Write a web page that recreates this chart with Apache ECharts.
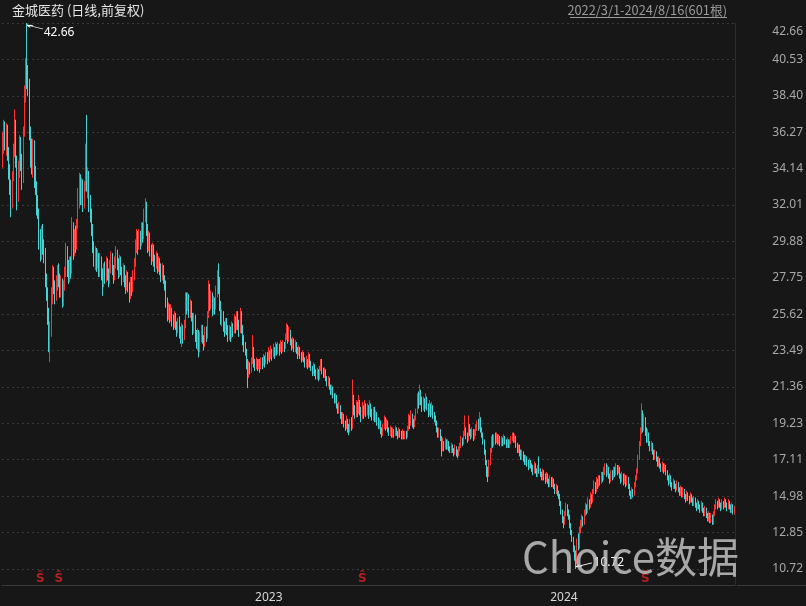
<!DOCTYPE html>
<html>
<head>
<meta charset="utf-8">
<title>金城医药 日线</title>
<script src="https://cdn.jsdelivr.net/npm/echarts@6.0.0/dist/echarts.min.js"></script>
<style>
  html, body { margin: 0; padding: 0; background: #171717; }
  #kline { width: 806px; height: 606px; }
</style>
</head>
<body>
<div id="kline"></div>
<script>
  const chartTitle = '金城医药 (日线,前复权)';
  const rangeText = '2022/3/1-2024/8/16(601根)';
  const firstDay = '2022-03-01';
  const lastDay = '2024-08-16';
  // 休市日（工作日）
  const holidays = [
    '2022-04-04', '2022-04-05', '2022-05-02', '2022-05-03', '2022-05-04', '2022-06-03', '2022-09-12',
    '2022-10-03', '2022-10-04', '2022-10-05', '2022-10-06', '2022-10-07',
    '2023-01-02', '2023-01-23', '2023-01-24', '2023-01-25', '2023-01-26', '2023-01-27', '2023-04-05',
    '2023-05-01', '2023-05-02', '2023-05-03', '2023-06-22', '2023-06-23', '2023-09-29',
    '2023-10-02', '2023-10-03', '2023-10-04', '2023-10-05', '2023-10-06',
    '2024-01-01', '2024-02-09', '2024-02-12', '2024-02-13', '2024-02-14', '2024-02-15', '2024-02-16',
    '2024-04-04', '2024-04-05', '2024-05-01', '2024-05-02', '2024-05-03', '2024-06-10'
  ];
  const yTickLabels = [10.72, 12.85, 14.98, 17.11, 19.23, 21.36, 23.49, 25.62, 27.75, 29.88, 32.01, 34.14, 36.27, 38.40, 40.53, 42.66];
  const yMin = 9.78;
  const yMax = 42.66;
  // 公告标记 S 所在的K线序号
  const eventIdx = [31, 46, 295, 527];
  const eventLevel = 10.15;
  // [开盘, 收盘, 最低, 最高]
  const candles = [
    [34.8,35.5,34.2,36.3],[35.5,36.6,35.0,37.0],[36.6,35.6,35.2,36.9],[35.6,36.5,34.9,36.8],[36.5,35.0,34.6,36.7],[35.0,34.0,33.5,35.4],[34.0,33.2,32.6,34.4],[33.2,32.0,31.3,33.5],[32.0,33.6,31.8,34.0],[33.6,35.0,33.4,35.6],
    [35.0,36.8,34.8,37.6],[36.8,34.6,34.2,37.0],[34.6,32.5,31.7,34.9],[32.5,34.0,32.2,34.6],[34.0,35.5,33.6,36.1],[35.5,34.6,34.0,36.0],[34.6,33.5,32.9,35.0],[33.5,36.2,33.3,36.6],[36.2,38.5,36.0,39.0],[38.5,40.0,38.0,40.6],
    [40.8,39.2,38.8,42.66],[39.2,39.0,38.4,40.2],[39.0,36.2,35.8,39.4],[36.2,35.0,34.2,36.6],[35.0,34.2,33.8,35.9],[34.2,35.6,33.6,35.9],[35.6,34.0,33.0,35.8],[34.0,33.0,32.6,34.3],[33.0,32.0,31.4,33.4],[32.0,31.6,31.2,32.6],
    [31.6,30.0,29.4,31.8],[30.0,29.0,28.7,30.6],[29.0,30.4,28.8,30.8],[30.4,29.6,29.1,30.9],[29.6,29.0,28.6,30.0],[29.0,27.6,27.2,29.5],[27.6,26.8,26.4,28.0],[26.8,25.4,25.0,27.2],[25.4,24.0,23.4,26.0],[23.8,24.6,22.83,25.2],
    [24.6,26.8,24.3,27.2],[26.8,28.0,26.2,28.5],[28.0,27.2,26.8,28.4],[27.2,26.6,26.2,27.6],[26.6,27.4,26.4,27.9],[27.4,28.2,27.0,28.5],[28.2,27.6,27.2,28.6],[27.6,27.0,26.6,28.0],[27.0,27.5,26.6,27.9],[27.5,26.4,26.0,27.7],
    [26.4,27.2,26.1,27.6],[27.2,28.0,27.0,28.4],[28.0,29.4,27.8,29.8],[29.4,28.4,27.8,29.6],[28.4,27.8,27.4,28.8],[27.8,28.6,27.5,29.0],[28.6,28.2,27.7,29.0],[28.2,30.6,28.0,31.3],[30.6,29.4,28.8,31.0],[29.4,30.2,29.0,30.6],
    [30.2,29.6,29.2,30.8],[29.6,30.8,29.4,31.2],[30.8,32.6,30.6,33.0],[32.6,33.6,31.8,33.9],[33.6,32.4,32.0,33.8],[32.4,33.2,32.0,33.6],[33.2,32.0,31.6,33.5],[32.0,33.0,31.8,33.4],[33.0,35.2,32.8,35.6],[35.0,33.2,32.8,37.28],
    [32.9,33.8,32.4,34.2],[33.8,32.2,31.6,34.0],[32.2,31.4,31.0,32.6],[31.4,30.6,30.2,31.8],[30.6,29.6,29.2,30.9],[29.6,28.8,28.4,29.9],[28.8,29.2,28.2,29.6],[29.2,28.6,28.1,29.5],[28.6,29.0,28.3,29.4],[29.0,28.2,27.8,29.2],
    [28.2,28.8,27.8,29.2],[28.8,28.0,27.6,29.0],[28.0,27.4,26.7,28.3],[27.4,28.2,27.2,28.6],[28.2,27.8,27.4,28.7],[27.8,28.6,27.5,29.0],[28.6,28.0,27.6,28.9],[28.0,27.6,27.2,28.3],[27.6,28.4,27.4,28.8],[28.4,28.9,28.0,29.3],
    [28.9,28.2,27.9,29.2],[28.2,27.8,27.4,28.5],[27.8,28.6,27.6,29.0],[28.6,29.2,28.3,29.6],[29.2,28.6,28.2,29.4],[28.6,28.0,27.7,28.9],[28.0,28.7,27.8,29.1],[28.7,28.2,27.9,29.0],[28.2,27.7,27.3,28.4],[27.7,28.3,27.5,28.6],
    [28.3,27.6,27.2,28.5],[27.6,27.2,26.8,27.9],[27.2,27.9,27.0,28.2],[27.9,27.3,26.9,28.1],[27.3,26.7,26.3,27.5],[26.7,27.5,26.5,27.8],[27.5,27.0,26.7,27.8],[27.0,27.8,26.9,28.2],[27.8,28.6,27.6,28.9],[28.6,29.6,28.4,30.0],
    [29.6,30.2,29.2,30.6],[30.2,29.6,29.1,30.5],[29.6,30.3,29.4,30.6],[30.3,29.8,29.4,30.5],[29.8,30.6,29.6,31.0],[30.6,30.2,29.8,31.0],[30.2,31.4,30.0,31.8],[31.4,32.0,31.0,32.4],[32.0,30.6,30.2,32.2],[30.6,29.6,29.2,30.9],
    [29.6,30.2,29.3,30.5],[30.2,29.4,29.0,30.4],[29.4,28.9,28.5,29.7],[28.9,29.5,28.7,29.8],[29.5,28.8,28.4,29.7],[28.8,28.5,28.1,29.1],[28.5,29.0,28.3,29.3],[29.0,28.4,28.0,29.2],[28.4,28.7,28.1,29.0],[28.7,28.2,27.9,28.9],
    [28.2,27.9,27.5,28.6],[27.9,28.3,27.6,28.6],[28.3,27.7,27.4,28.5],[27.7,27.4,27.0,27.9],[27.4,26.4,26.0,27.6],[26.4,25.6,25.2,26.6],[25.6,26.0,25.3,26.3],[26.0,25.5,25.1,26.2],[25.5,25.9,25.2,26.2],[25.9,25.3,24.9,26.0],
    [25.3,25.0,24.7,25.6],[25.0,25.5,24.8,25.8],[25.5,25.0,24.7,25.7],[25.0,24.7,24.3,25.2],[24.7,25.2,24.5,25.4],[25.2,24.6,24.2,25.5],[24.6,24.2,23.9,24.9],[24.2,24.8,23.7,25.1],[24.8,24.4,23.9,25.0],[24.4,25.0,24.1,25.3],
    [25.0,26.6,24.8,26.9],[26.6,26.0,25.6,26.9],[26.0,26.6,25.8,26.9],[26.6,25.8,25.4,26.8],[25.8,26.2,25.4,26.5],[26.2,25.5,25.2,26.4],[25.5,24.8,24.4,25.7],[24.8,25.4,24.5,25.7],[25.4,24.4,24.0,25.6],[24.4,24.0,23.6,24.7],
    [24.0,24.5,23.5,24.8],[24.5,23.6,23.1,24.7],[23.6,24.3,23.4,24.6],[24.3,24.8,24.0,25.0],[24.8,24.2,23.9,25.0],[24.2,23.9,23.5,24.4],[23.9,24.6,23.7,24.9],[24.6,24.3,24.0,24.9],[24.3,25.5,24.2,25.8],[25.5,27.2,25.4,27.6],
    [27.2,26.2,25.8,27.4],[26.2,26.7,25.9,27.0],[26.7,25.9,25.5,26.9],[25.9,26.4,25.6,26.7],[26.4,26.0,25.6,26.6],[26.0,26.8,25.9,27.3],[26.8,28.0,26.6,28.2],[28.0,27.6,26.8,28.6],[27.6,26.2,25.8,27.8],[26.2,25.4,25.0,26.4],
    [25.4,25.6,24.9,25.9],[25.6,25.0,24.6,25.8],[25.0,24.6,24.3,25.2],[24.6,25.2,24.5,25.4],[25.2,24.8,24.4,25.4],[24.8,24.3,24.0,25.0],[24.3,24.7,24.1,25.0],[24.7,24.4,24.0,24.9],[24.4,25.0,24.2,25.2],[25.0,24.6,24.3,25.1],
    [24.6,25.3,24.5,25.6],[25.3,24.8,24.5,25.5],[24.8,25.6,24.7,25.8],[25.6,25.1,24.7,25.8],[25.1,24.6,24.3,25.3],[24.6,25.6,24.5,26.0],[25.6,24.8,24.5,25.8],[24.8,24.2,23.8,25.0],[24.2,23.8,23.4,24.4],[23.8,23.5,23.2,24.0],
    [23.5,22.8,22.4,23.6],[22.8,22.2,21.3,23.0],[22.2,22.6,21.9,22.9],[22.6,22.4,22.1,22.8],[22.4,22.9,22.2,23.1],[22.9,23.5,22.7,24.4],[23.5,22.8,22.5,23.7],[22.8,22.6,22.3,23.0],[22.6,22.9,22.4,23.1],[22.9,22.6,22.3,23.0],
    [22.6,22.8,22.4,23.0],[22.8,22.5,22.2,23.0],[22.5,22.9,22.4,23.1],[22.9,22.7,22.4,23.1],[22.7,23.1,22.6,23.3],[23.1,22.8,22.5,23.2],[22.8,23.2,22.7,23.4],[23.2,23.0,22.7,23.4],[23.0,23.4,22.9,23.7],[23.4,23.1,22.8,23.5],
    [23.1,23.5,23.0,23.8],[23.5,23.2,22.9,23.6],[23.2,23.6,23.1,23.9],[23.6,23.3,23.0,23.7],[23.3,23.8,23.2,24.0],[23.8,23.5,23.2,23.9],[23.5,23.7,23.3,24.0],[23.7,23.5,23.2,23.9],[23.5,23.9,23.4,24.1],[23.9,23.6,23.3,24.0],
    [23.6,23.8,23.4,24.1],[23.8,23.7,23.4,24.0],[23.7,24.2,23.6,24.5],[24.2,24.7,24.1,25.1],[24.7,24.2,23.9,25.0],[24.2,24.5,24.0,24.9],[24.5,24.0,23.8,24.7],[24.0,23.8,23.5,24.2],[23.8,24.1,23.6,24.3],[24.1,23.6,23.4,24.2],
    [23.6,23.9,23.4,24.1],[23.9,23.5,23.3,24.0],[23.5,23.3,23.0,23.7],[23.3,23.6,23.2,23.8],[23.6,23.2,23.0,23.7],[23.2,23.0,22.8,23.4],[23.0,23.3,22.9,23.5],[23.3,23.0,22.8,23.4],[23.0,22.7,22.5,23.1],[22.7,22.9,22.5,23.2],
    [22.9,22.6,22.4,23.0],[22.6,23.2,22.5,23.4],[23.2,22.8,22.5,23.3],[22.8,22.5,22.3,22.9],[22.5,22.3,22.0,22.6],[22.3,22.6,22.1,22.8],[22.6,22.2,22.0,22.7],[22.2,22.0,21.8,22.4],[22.0,22.3,21.8,22.5],[22.3,21.9,21.7,22.4],
    [21.9,22.4,21.8,22.6],[22.4,22.9,22.3,23.0],[22.9,22.4,22.1,23.0],[22.4,22.1,21.9,22.5],[22.1,22.3,21.9,22.5],[22.3,21.9,21.7,22.4],[21.9,21.6,21.4,22.0],[21.6,21.8,21.4,22.0],[21.8,21.4,21.2,21.9],[21.4,21.1,20.9,21.5],
    [21.1,21.3,20.9,21.5],[21.3,20.9,20.7,21.4],[20.9,20.6,20.4,21.0],[20.6,20.8,20.4,21.0],[20.8,20.3,20.1,20.9],[20.3,20.0,19.8,20.4],[20.0,20.2,19.8,20.5],[20.2,19.7,19.5,20.3],[19.7,19.4,19.2,19.9],[19.4,19.7,19.2,19.9],
    [19.7,19.3,19.0,19.8],[19.3,19.0,18.8,19.4],[19.0,19.4,18.9,19.7],[19.4,19.0,18.7,19.5],[19.0,18.8,18.55,19.2],[18.8,19.3,18.7,19.5],[19.3,19.0,18.8,19.6],[19.0,20.6,18.9,21.8],[20.6,20.0,19.7,20.9],[20.0,19.8,19.5,20.3],
    [19.8,20.3,19.6,20.6],[20.3,19.9,19.6,20.5],[19.9,20.4,19.8,20.9],[20.4,20.0,19.7,20.6],[20.0,19.6,19.3,20.2],[19.6,20.2,19.5,20.5],[20.2,19.8,19.5,20.3],[19.8,20.3,19.7,20.6],[20.3,19.9,19.6,20.4],[19.9,20.2,19.7,20.4],
    [20.2,19.8,19.5,20.3],[19.8,20.3,19.7,20.6],[20.3,19.9,19.6,20.4],[19.9,19.6,19.4,20.1],[19.6,20.0,19.4,20.2],[20.0,19.5,19.3,20.2],[19.5,19.8,19.3,20.0],[19.8,19.4,19.1,19.9],[19.4,19.1,18.9,19.6],[19.1,19.3,18.9,19.5],
    [19.3,18.8,18.6,19.4],[18.8,18.6,18.4,19.0],[18.6,19.0,18.5,19.2],[19.0,19.5,18.9,19.7],[19.5,19.1,18.8,19.6],[19.1,19.3,18.9,19.5],[19.3,18.9,18.7,19.4],[18.9,18.7,18.5,19.0],[18.7,18.9,18.5,19.1],[18.9,18.6,18.4,19.0],
    [18.6,18.8,18.4,19.0],[18.8,18.6,18.4,18.9],[18.6,18.9,18.5,19.1],[18.9,18.7,18.5,19.0],[18.7,18.5,18.3,18.8],[18.5,18.8,18.4,19.0],[18.8,18.6,18.4,18.9],[18.6,18.5,18.3,18.8],[18.5,18.7,18.3,18.9],[18.7,18.5,18.3,18.8],
    [18.5,18.6,18.3,18.8],[18.6,18.5,18.3,18.8],[18.5,18.9,18.4,19.1],[18.9,19.5,18.8,19.8],[19.5,19.2,18.9,19.7],[19.2,19.7,19.1,20.0],[19.7,19.3,19.0,19.8],[19.3,19.1,18.9,19.5],[19.1,19.5,19.0,19.7],[19.5,19.9,19.4,20.1],
    [19.9,20.7,19.8,21.0],[20.7,20.4,20.1,21.1],[20.4,21.0,20.3,21.5],[21.0,20.6,20.3,21.2],[20.6,20.1,19.9,20.8],[20.1,20.5,20.0,20.8],[20.5,20.2,19.9,20.7],[20.2,20.7,20.1,21.0],[20.7,20.3,20.0,20.8],[20.3,19.8,19.6,20.4],
    [19.8,20.3,19.7,20.6],[20.3,19.9,19.6,20.4],[19.9,20.2,19.7,20.5],[20.2,19.7,19.5,20.3],[19.7,19.5,19.3,19.9],[19.5,19.3,19.1,19.7],[19.3,18.9,18.7,19.4],[18.9,18.6,18.4,19.0],[18.6,18.8,18.4,19.0],[18.8,18.4,18.2,18.9],
    [18.4,17.7,17.3,18.5],[17.7,18.1,17.6,18.4],[18.1,17.8,17.6,18.2],[17.8,18.2,17.7,18.4],[18.2,17.9,17.7,18.3],[17.9,18.1,17.7,18.3],[18.1,17.8,17.6,18.2],[17.8,17.6,17.5,17.9],[17.6,17.9,17.5,18.1],[17.9,17.7,17.5,18.0],
    [17.7,17.5,17.3,17.8],[17.5,17.8,17.4,18.0],[17.8,17.5,17.3,17.9],[17.5,17.4,17.2,17.7],[17.4,17.7,17.3,17.9],[17.7,17.9,17.6,18.1],[17.9,18.3,17.8,18.5],[18.3,18.1,17.9,18.4],[18.1,18.6,18.0,18.8],[18.6,18.9,18.5,19.7],
    [18.9,18.5,18.3,19.0],[18.5,18.3,18.1,18.7],[18.3,19.1,18.2,19.7],[19.1,18.7,18.5,19.2],[18.7,18.5,18.3,18.9],[18.5,18.8,18.4,19.0],[18.8,18.4,18.2,18.9],[18.4,18.6,18.3,18.9],[18.6,18.9,18.5,19.2],[18.9,19.2,18.8,19.4],
    [19.2,19.0,18.8,19.5],[19.0,19.5,18.9,19.9],[19.5,18.9,18.7,19.6],[18.9,18.6,18.4,19.0],[18.6,18.2,18.0,18.7],[18.2,17.6,17.4,18.3],[17.6,17.0,16.8,17.7],[17.0,16.4,16.1,17.1],[16.4,16.3,15.8,16.7],[16.3,16.9,16.1,17.1],
    [16.9,17.6,16.8,17.8],[17.6,18.3,17.5,18.5],[18.3,18.0,17.8,18.6],[18.0,18.4,17.9,18.6],[18.4,18.2,18.0,18.7],[18.2,18.5,18.1,18.7],[18.5,18.2,18.0,18.6],[18.2,18.4,18.0,18.6],[18.4,18.1,17.9,18.5],[18.1,18.3,17.9,18.5],
    [18.3,18.1,17.9,18.4],[18.1,18.4,18.0,18.6],[18.4,18.2,18.0,18.5],[18.2,18.0,17.8,18.3],[18.0,18.2,17.8,18.4],[18.2,17.9,17.8,18.3],[17.9,18.1,17.8,18.3],[18.1,18.3,18.0,18.5],[18.3,18.5,18.2,18.7],[18.5,18.3,18.1,18.7],
    [18.3,18.4,18.1,18.6],[18.4,18.0,17.8,18.5],[18.0,17.7,17.5,18.1],[17.7,17.9,17.5,18.0],[17.9,17.5,17.3,18.0],[17.5,17.3,17.1,17.7],[17.3,17.5,17.1,17.7],[17.5,17.2,17.0,17.6],[17.2,17.0,16.8,17.4],[17.0,17.2,16.8,17.4],
    [17.2,16.9,16.7,17.3],[16.9,16.7,16.5,17.1],[16.7,17.0,16.6,17.2],[17.0,16.8,16.6,17.1],[16.8,16.6,16.4,16.9],[16.6,16.4,16.2,16.8],[16.4,16.8,16.3,17.0],[16.8,16.5,16.3,16.9],[16.5,16.2,16.1,16.6],[16.2,16.7,16.1,16.8],
    [16.7,16.5,16.3,17.3],[16.5,16.3,16.1,16.6],[16.3,16.0,15.9,16.4],[16.0,16.4,15.9,16.6],[16.4,16.1,15.9,16.5],[16.1,15.9,15.7,16.3],[15.9,16.2,15.8,16.4],[16.2,15.9,15.7,16.3],[15.9,15.7,15.5,16.0],[15.7,16.0,15.5,16.2],
    [16.0,15.7,15.5,16.1],[15.7,15.9,15.5,16.1],[15.9,15.6,15.4,16.0],[15.6,15.3,15.1,15.7],[15.3,15.5,15.1,15.7],[15.5,15.2,15.0,15.6],[15.2,15.0,14.8,15.3],[15.0,14.6,14.4,15.1],[14.6,14.1,13.9,14.7],[14.1,13.6,13.4,14.2],
    [13.6,13.4,13.1,13.8],[13.4,13.9,13.3,14.1],[13.9,14.4,13.8,14.6],[14.4,14.0,13.8,14.5],[14.0,13.8,13.6,14.2],[13.8,13.3,13.1,13.9],[13.3,12.9,12.7,13.4],[12.9,12.5,12.3,13.0],[12.5,12.0,11.7,12.6],[12.0,11.4,11.2,12.1],
    [11.4,11.2,10.72,11.8],[11.2,12.3,11.0,12.5],[12.3,12.0,11.8,12.8],[12.0,13.0,11.9,13.2],[13.0,13.3,12.8,13.6],[13.3,13.6,13.1,13.9],[13.6,13.4,13.2,13.8],[13.4,13.9,13.3,14.2],[13.9,14.3,13.8,14.6],[14.3,14.1,13.9,14.5],
    [14.1,14.6,14.0,14.9],[14.6,14.4,14.2,14.8],[14.4,14.9,14.3,15.2],[14.9,14.7,14.5,15.1],[14.7,15.2,14.6,15.4],[15.2,15.6,15.1,15.9],[15.6,15.3,15.1,15.8],[15.3,15.8,15.2,16.1],[15.8,15.6,15.4,16.0],[15.6,16.0,15.5,16.2],
    [16.0,15.8,15.6,16.2],[15.8,16.2,15.7,16.4],[16.2,16.0,15.8,16.4],[16.0,16.4,15.9,16.7],[16.4,16.6,16.2,16.9],[16.6,16.3,16.1,16.9],[16.3,16.6,16.2,16.8],[16.6,16.2,16.0,16.7],[16.2,15.9,15.7,16.3],[15.9,16.3,15.8,16.5],
    [16.3,16.1,15.9,16.5],[16.1,16.5,16.0,16.7],[16.5,16.3,16.1,16.7],[16.3,16.7,16.2,16.9],[16.7,16.4,16.2,16.8],[16.4,16.6,16.3,16.8],[16.6,16.2,16.0,16.7],[16.2,15.9,15.7,16.3],[15.9,16.2,15.8,16.4],[16.2,15.8,15.6,16.3],
    [15.8,16.1,15.7,16.3],[16.1,15.7,15.5,16.2],[15.7,16.0,15.6,16.2],[16.0,15.6,15.4,16.1],[15.6,15.2,15.0,15.7],[15.2,15.0,14.8,15.3],[15.0,15.3,14.8,15.5],[15.3,15.1,14.9,15.4],[15.1,15.6,15.0,15.8],[15.6,16.0,15.5,16.2],
    [16.0,16.4,15.9,16.6],[16.4,17.2,16.3,17.4],[17.2,18.0,17.1,18.2],[18.0,18.8,17.9,19.0],[18.8,19.6,18.6,20.4],[19.6,19.0,18.7,20.0],[19.0,19.4,18.8,19.8],[19.4,18.8,18.5,19.6],[18.8,18.4,18.1,19.0],[18.4,18.6,18.1,18.9],
    [18.6,18.1,17.9,18.7],[18.1,17.8,17.6,18.2],[17.8,18.0,17.6,18.2],[18.0,17.6,17.4,18.1],[17.6,17.3,17.1,17.7],[17.3,17.5,17.1,17.7],[17.5,17.2,17.0,17.6],[17.2,16.9,16.7,17.3],[16.9,17.1,16.7,17.3],[17.1,16.8,16.6,17.2],
    [16.8,16.6,16.4,16.9],[16.6,16.8,16.4,17.0],[16.8,16.5,16.3,16.9],[16.5,16.7,16.4,16.9],[16.7,16.4,16.2,16.8],[16.4,16.1,15.9,16.5],[16.1,15.8,15.6,16.2],[15.8,16.1,15.7,16.3],[16.1,15.7,15.5,16.2],[15.7,15.5,15.3,15.8],
    [15.5,15.8,15.4,16.0],[15.8,15.6,15.4,15.9],[15.6,15.4,15.2,15.7],[15.4,15.7,15.3,15.9],[15.7,15.4,15.2,15.8],[15.4,15.2,15.0,15.5],[15.2,15.4,15.0,15.6],[15.4,15.1,14.9,15.5],[15.1,15.3,14.9,15.5],[15.3,15.0,14.8,15.4],
    [15.0,14.8,14.6,15.1],[14.8,15.1,14.7,15.3],[15.1,14.9,14.7,15.2],[14.9,14.7,14.5,15.0],[14.7,15.0,14.6,15.2],[15.0,14.8,14.6,15.1],[14.8,14.6,14.4,14.9],[14.6,14.8,14.4,15.0],[14.8,14.5,14.3,14.9],[14.5,14.3,14.1,14.6],
    [14.3,14.6,14.2,14.8],[14.6,14.4,14.2,14.7],[14.4,14.2,14.0,14.5],[14.2,14.5,14.1,14.7],[14.5,14.2,14.0,14.6],[14.2,14.0,13.8,14.3],[14.0,14.2,13.8,14.4],[14.2,13.9,13.7,14.3],[13.9,13.7,13.5,14.0],[13.7,13.9,13.5,14.1],
    [13.9,13.6,13.4,14.0],[13.6,13.8,13.4,14.0],[13.8,13.5,13.3,13.9],[13.5,13.9,13.3,14.1],[13.9,14.3,13.8,14.5],[14.3,14.6,14.2,14.8],[14.6,14.4,14.2,14.7],[14.4,14.7,14.3,14.9],[14.7,14.5,14.3,14.8],[14.5,14.3,14.1,14.6],
    [14.3,14.6,14.2,14.8],[14.6,14.4,14.2,14.7],[14.4,14.7,14.3,14.9],[14.7,14.5,14.3,14.8],[14.5,14.3,14.1,14.6],[14.3,14.6,14.2,14.8],[14.6,14.4,14.2,14.7],[14.4,14.2,14.0,14.5],[14.2,14.4,14.0,14.6],[14.4,14.1,13.9,14.5],
    [14.1,14.2,13.9,14.4]
  ];

  // 交易日：工作日去掉休市日
  function tradingDays (from, to, closed) {
    const days = [];
    const d = new Date(from + 'T00:00:00Z');
    const end = new Date(to + 'T00:00:00Z');
    while (d <= end) {
      const wd = d.getUTCDay();
      const iso = d.toISOString().slice(0, 10);
      if (wd !== 0 && wd !== 6 && closed.indexOf(iso) < 0) {
        days.push(d.getUTCFullYear() + '/' + (d.getUTCMonth() + 1) + '/' + d.getUTCDate());
      }
      d.setUTCDate(d.getUTCDate() + 1);
    }
    return days;
  }
  const dates = tradingDays(firstDay, lastDay, holidays);

  const upColor = '#ff3030';
  const downColor = '#45d3d3';
  const fontCn = '"Noto Sans CJK SC", "Noto Sans", sans-serif';

  const option = {
    backgroundColor: '#171717',
    animation: false,
    title: [
      {
        text: chartTitle, left: 12, top: 4, padding: 0,
        textStyle: {color: '#e6e6e6', fontSize: 13, fontWeight: 'normal', fontFamily: fontCn}
      },
      {
        text: rangeText, right: 79, top: 4, padding: 0,
        textStyle: {color: '#9a9a9a', fontSize: 12.8, fontWeight: 'normal', fontFamily: fontCn}
      }
    ],
    grid: {left: 2, right: 69, top: 23, bottom: 21},
    xAxis: {
      type: 'category',
      data: dates,
      boundaryGap: true,
      axisLine: {lineStyle: {color: '#3a3a3a', width: 1}},
      axisTick: {show: false},
      splitLine: {show: false},
      axisLabel: {
        color: '#d8d8d8',
        fontSize: 12,
        fontFamily: '"Noto Sans", sans-serif',
        align: 'left',
        margin: 7,
        interval: function (index, value) {
          return index > 0 && value.slice(0, 4) !== dates[index - 1].slice(0, 4);
        },
        formatter: function (value) {
          return value.slice(0, 4);
        }
      }
    },
    yAxis: {
      type: 'value',
      position: 'right',
      min: yMin,
      max: yMax,
      axisLine: {show: true, lineStyle: {color: '#2c2c2c'}},
      axisTick: {show: false, customValues: yTickLabels},
      splitLine: {
        show: true,
        lineStyle: {color: '#3a3a3a', type: [2, 3], width: 1}
      },
      axisLabel: {
        customValues: yTickLabels,
        color: '#a9a9a9',
        fontSize: 12,
        fontFamily: '"Noto Sans", sans-serif',
        align: 'right',
        margin: 68,
        verticalAlignMaxLabel: 'top',
        formatter: function (v) {
          return v === yMax ? '{top|' + v.toFixed(2) + '}' : v.toFixed(2);
        },
        rich: {
          top: {color: '#a9a9a9', fontSize: 12, fontFamily: '"Noto Sans", sans-serif', padding: [3, 0, 0, 0]}
        }
      }
    },
    series: [
      {
        name: '金城医药',
        type: 'candlestick',
        large: false,
        barWidth: '75%',
        data: candles,
        itemStyle: {
          color: upColor,
          color0: downColor,
          borderColor: upColor,
          borderColor0: downColor,
          borderWidth: 1
        },
        markPoint: {
          silent: true,
          symbolKeepAspect: true,
          itemStyle: {color: 'transparent', borderColor: '#ffffff', borderWidth: 1},
          data: [
            {
              type: 'max', valueDim: 'highest',
              symbol: 'path://M0,0 L16,8 M0,0 L6,0.6 M0,0 L3,4.4',
              symbolSize: [16, 8],
              symbolOffset: [8, 4],
              label: {show: true, position: 'right', distance: 0, offset: [0, 6], color: '#ffffff', fontSize: 12, fontFamily: '"Noto Sans", sans-serif'}
            },
            {
              type: 'min', valueDim: 'lowest',
              symbol: 'path://M0,8 L16,0 M0,8 L6,7.4 M0,8 L3,3.6',
              symbolSize: [16, 8],
              symbolOffset: [8, -4],
              label: {show: true, position: 'right', distance: 0, offset: [1, -2], color: '#ffffff', fontSize: 12, fontFamily: '"Noto Sans", sans-serif'}
            }
          ]
        }
      },
      {
        name: '公告',
        type: 'scatter',
        silent: true,
        symbolSize: 1,
        itemStyle: {color: 'transparent'},
        data: eventIdx.map(function (i) { return [i, eventLevel]; }),
        label: {
          show: true,
          position: 'inside',
          formatter: 'Ŝ',
          color: '#e02020',
          fontSize: 12,
          fontWeight: 'bold',
          fontFamily: '"DejaVu Sans", sans-serif'
        }
      }
    ],
    graphic: [
      {
        type: 'line', silent: true,
        shape: {x1: 570, y1: 17.5, x2: 727, y2: 17.5},
        style: {stroke: '#9a9a9a', lineWidth: 1}
      },
      {
        type: 'line', silent: true,
        shape: {x1: 737, y1: 585.5, x2: 806, y2: 585.5},
        style: {stroke: '#3a3a3a', lineWidth: 1}
      },
      {
        type: 'text', silent: true, left: 522, top: 536, z: 100,
        style: {
          text: 'Choice数据',
          fill: 'rgba(200,200,200,0.82)',
          font: '42px "Noto Sans CJK SC", "Open Sans", sans-serif'
        }
      }
    ]
  };

  const kline = echarts.init(document.getElementById('kline'));
  kline.setOption(option);
  window.addEventListener('resize', function () {
    kline.resize();
  });
</script>
</body>
</html>
